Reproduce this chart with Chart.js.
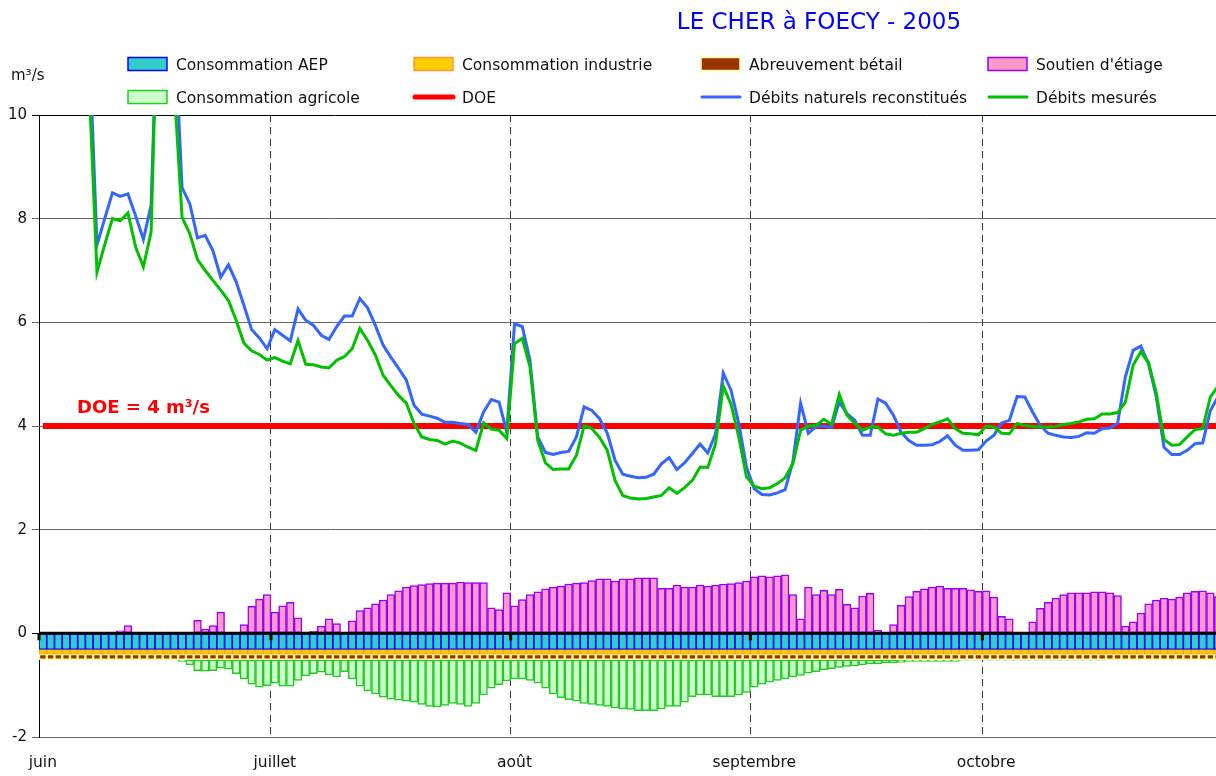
<!DOCTYPE html>
<html lang="fr">
<head>
<meta charset="utf-8">
<title>LE CHER à FOECY - 2005</title>
<script src="https://cdn.jsdelivr.net/npm/chart.js@4.4.1/dist/chart.umd.min.js"></script>
<style>
  html, body { margin: 0; padding: 0; background: #fff; overflow: hidden; }
  /* le tracé déborde légèrement à droite de la fenêtre, comme sur l'original */
  #wrap { position: relative; width: 1222px; height: 776px; }
</style>
</head>
<body>
<div id="wrap"><canvas id="debits"></canvas></div>
<script>
// mois affichés sur l'axe et nombre de jours de chacun
const mois = ['juin', 'juillet', 'août', 'septembre', 'octobre'];
const joursParMois = [30, 31, 31, 30, 31];

// graduations de l'axe des débits (m3/s)
const yTicks = [-2, 0, 2, 4, 6, 8, 10];

// débits journaliers du 1er juin au 31 octobre (m3/s)
const debitsNaturels = [
  17.5, 16.8, 15.9, 14.6, 13.4, 12.3, 11.4, 7.49, 8.0, 8.5,
  8.43, 8.48, 8.05, 7.6, 8.26, 13.0, 13.6, 11.8, 8.6, 8.29,
  7.63, 7.68, 7.38, 6.87, 7.11, 6.78, 6.33, 5.86, 5.7, 5.49,
  5.86, 5.75, 5.64, 6.26, 6.04, 5.94, 5.75, 5.67, 5.92, 6.12,
  6.12, 6.46, 6.28, 5.94, 5.56, 5.33, 5.11, 4.89, 4.4, 4.23,
  4.19, 4.15, 4.07, 4.07, 4.05, 4.03, 3.88, 4.27, 4.51, 4.46,
  3.88, 5.97, 5.92, 5.27, 3.79, 3.49, 3.45, 3.49, 3.51, 3.79,
  4.37, 4.3, 4.14, 3.86, 3.34, 3.07, 3.03, 3.0, 3.01, 3.07,
  3.27, 3.39, 3.16, 3.29, 3.47, 3.65, 3.48, 3.85, 5.02, 4.69,
  4.05, 3.21, 2.79, 2.68, 2.67, 2.71, 2.77, 3.31, 4.44, 3.86,
  3.99, 4.0, 3.97, 4.46, 4.24, 4.11, 3.82, 3.82, 4.52, 4.44,
  4.21, 3.88, 3.72, 3.63, 3.63, 3.64, 3.7, 3.81, 3.63, 3.53,
  3.53, 3.54, 3.71, 3.82, 4.06, 4.11, 4.57, 4.56, 4.27, 4.01,
  3.86, 3.82, 3.79, 3.78, 3.8, 3.87, 3.86, 3.95, 3.96, 4.05,
  4.95, 5.46, 5.54, 5.2, 4.56, 3.59, 3.45, 3.45, 3.53, 3.66,
  3.67, 4.3, 4.57
];

const debitsMesures = [
  16.9, 16.1, 15.2, 14.0, 12.8, 11.6, 10.5, 6.97, 7.5, 8.0,
  7.96, 8.11, 7.45, 7.07, 7.74, 13.2, 12.9, 10.5, 8.03, 7.71,
  7.21, 7.0, 6.81, 6.62, 6.42, 6.04, 5.6, 5.45, 5.38, 5.27,
  5.32, 5.25, 5.2, 5.65, 5.19, 5.18, 5.14, 5.12, 5.27, 5.34,
  5.49, 5.88, 5.65, 5.37, 4.98, 4.78, 4.59, 4.44, 4.05, 3.79,
  3.74, 3.72, 3.65, 3.71, 3.67, 3.59, 3.53, 4.06, 3.94, 3.92,
  3.76, 5.59, 5.69, 5.14, 3.72, 3.29, 3.16, 3.17, 3.17, 3.43,
  4.0, 3.95, 3.78, 3.53, 2.95, 2.66, 2.61, 2.59, 2.6, 2.63,
  2.66, 2.81, 2.7, 2.81, 2.95, 3.21, 3.2, 3.66, 4.77, 4.42,
  3.79, 3.02, 2.84, 2.79, 2.81, 2.89, 3.0, 3.27, 3.92, 4.0,
  4.01, 4.13, 4.03, 4.61, 4.21, 4.05, 3.92, 3.98, 3.98, 3.85,
  3.82, 3.86, 3.88, 3.88, 3.95, 4.03, 4.08, 4.14, 3.95, 3.86,
  3.85, 3.83, 4.0, 3.98, 3.86, 3.85, 4.05, 4.01, 3.99, 3.98,
  3.98, 3.99, 4.03, 4.05, 4.08, 4.13, 4.14, 4.23, 4.23, 4.26,
  4.46, 5.17, 5.43, 5.22, 4.64, 3.74, 3.63, 3.64, 3.79, 3.93,
  3.95, 4.56, 4.77
];

const soutienEtiage = [
  0, 0, 0, 0, 0, 0, 0, 0, 0, 0,
  0.05, 0.15, 0, 0, 0, 0, 0, 0, 0, 0,
  0.25, 0.08, 0.15, 0.41, 0, 0, 0.17, 0.52, 0.66, 0.75,
  0.41, 0.53, 0.6, 0.3, 0, 0.04, 0.14, 0.28, 0.19, 0,
  0.24, 0.44, 0.49, 0.57, 0.64, 0.75, 0.82, 0.89, 0.92, 0.94,
  0.96, 0.97, 0.97, 0.97, 0.99, 0.98, 0.98, 0.98, 0.49, 0.46,
  0.78, 0.53, 0.65, 0.75, 0.8, 0.86, 0.89, 0.91, 0.95, 0.97,
  0.98, 1.02, 1.05, 1.05, 1.01, 1.05, 1.05, 1.07, 1.07, 1.07,
  0.87, 0.87, 0.93, 0.89, 0.89, 0.93, 0.91, 0.93, 0.95, 0.96,
  0.98, 1.01, 1.09, 1.11, 1.09, 1.11, 1.13, 0.75, 0.28, 0.89,
  0.75, 0.83, 0.75, 0.85, 0.56, 0.49, 0.72, 0.77, 0.06, 0,
  0.17, 0.54, 0.71, 0.81, 0.86, 0.89, 0.91, 0.87, 0.87, 0.87,
  0.84, 0.81, 0.82, 0.7, 0.33, 0.28, 0, 0, 0.22, 0.48,
  0.6, 0.68, 0.75, 0.78, 0.78, 0.78, 0.8, 0.8, 0.78, 0.73,
  0.14, 0.22, 0.39, 0.57, 0.64, 0.68, 0.66, 0.7, 0.78, 0.81,
  0.82, 0.78, 0.71
];

// prélèvements agricoles (tracés vers le bas)
const consoAgricole = [
  0, 0, 0, 0, 0, 0, 0, 0, 0, 0,
  0, 0, 0, 0, 0, 0, 0, 0, 0.03, 0.1,
  0.21, 0.22, 0.21, 0.16, 0.18, 0.27, 0.37, 0.47, 0.53, 0.5,
  0.45, 0.51, 0.51, 0.4, 0.31, 0.27, 0.24, 0.29, 0.33, 0.23,
  0.37, 0.51, 0.6, 0.66, 0.72, 0.76, 0.78, 0.8, 0.82, 0.86,
  0.9, 0.91, 0.88, 0.84, 0.86, 0.9, 0.84, 0.68, 0.55, 0.48,
  0.41, 0.37, 0.37, 0.4, 0.45, 0.55, 0.66, 0.73, 0.77, 0.8,
  0.84, 0.86, 0.88, 0.9, 0.93, 0.95, 0.96, 0.98, 0.98, 0.98,
  0.95, 0.9, 0.9, 0.82, 0.71, 0.68, 0.68, 0.71, 0.71, 0.71,
  0.68, 0.63, 0.53, 0.47, 0.43, 0.4, 0.37, 0.33, 0.3, 0.26,
  0.23, 0.19, 0.17, 0.15, 0.13, 0.12, 0.1, 0.08, 0.08, 0.06,
  0.06, 0.05, 0.03, 0.03, 0.03, 0.03, 0.03, 0.03, 0.03, 0.01,
  0.01, 0.01, 0.01, 0.01, 0.01, 0.01, 0.01, 0.01, 0.01, 0.01,
  0.01, 0.01, 0.01, 0.01, 0.01, 0.01, 0.01, 0.01, 0, 0,
  0, 0, 0, 0, 0, 0, 0, 0, 0, 0,
  0, 0, 0
];

// prélèvements constants sur la période
const consoAEP = 0.31;
const consoIndustrie = 0.09;
const abreuvementBetail = 0.11;
const doe = 4;

// jours et indices de début de mois
const jours = [];
const debutMois = [];
mois.forEach((m, k) => {
  debutMois.push(jours.length);
  for (let d = 1; d <= joursParMois[k]; d++) jours.push(d + ' ' + m);
});

const police = 'DejaVu Sans';
Chart.defaults.font.family = police;

const lignes = (valeurs, label, couleur, largeur, pile) => ({
  type: 'line', label, data: valeurs, stack: pile,
  borderColor: couleur, backgroundColor: couleur, borderWidth: largeur,
  pointRadius: 0, tension: 0, clip: 0
});

const barres = (valeurs, label, fond, bord, largeur) => ({
  type: 'bar', label, data: valeurs, stack: 'conso',
  backgroundColor: fond, borderColor: bord, borderWidth: largeur,
  borderSkipped: false, barPercentage: 1, categoryPercentage: 1
});

// legende en grille de 4 colonnes sur 2 lignes
const legende = [
  ['Consommation AEP', 0, 0], ['Consommation industrie', 1, 0],
  ['Abreuvement bétail', 2, 0], ["Soutien d'étiage", 3, 0],
  ['Consommation agricole', 0, 1], ['DOE', 1, 1],
  ['Débits naturels reconstitués', 2, 1], ['Débits mesurés', 3, 1]
];
const colX = [128, 414, 701, 988];
const rowY = [64, 97];

const decor = {
  id: 'decor',
  afterDatasetsDraw(chart) {
    const { ctx, chartArea: a, scales: { x, y } } = chart;
    const y0 = y.getPixelForValue(0);
    ctx.save();
    ctx.strokeStyle = '#000';
    ctx.lineWidth = 3;
    ctx.beginPath();
    ctx.moveTo(a.left, y0);
    ctx.lineTo(a.right, y0);
    ctx.stroke();
    const demi = (x.getPixelForValue(1) - x.getPixelForValue(0)) / 2;
    ctx.fillStyle = '#000';
    debutMois.forEach(i => {
      ctx.fillRect(x.getPixelForValue(i) - demi - 1.5, y0, 3, 7);
    });
    ctx.fillStyle = '#FF0000';
    ctx.font = 'bold 18px "' + police + '"';
    ctx.textAlign = 'left';
    ctx.textBaseline = 'alphabetic';
    ctx.fillText('DOE = ' + doe + ' m³/s', 77, y.getPixelForValue(doe) - 13);
    ctx.restore();
  },
  afterDraw(chart) {
    const ctx = chart.ctx;
    ctx.save();
    ctx.textBaseline = 'alphabetic';
    // titre
    ctx.fillStyle = '#0000FF';
    ctx.font = '23px "' + police + '"';
    ctx.textAlign = 'center';
    ctx.fillText('LE CHER à FOECY - 2005', 819, 29);
    // unité
    ctx.fillStyle = '#111';
    ctx.font = '15px "' + police + '"';
    ctx.textAlign = 'left';
    ctx.fillText('m³/s', 11, 80);
    // légende
    ctx.font = '15.5px "' + police + '"';
    legende.forEach(([label, c, r]) => {
      const ds = chart.data.datasets.find(d => d.label === label);
      const bx = colX[c], cy = rowY[r];
      if (ds.type === 'line') {
        ctx.strokeStyle = ds.borderColor;
        ctx.lineWidth = label === 'DOE' ? 5 : 3;
        ctx.lineCap = 'round';
        ctx.beginPath();
        ctx.moveTo(bx + 1, cy);
        ctx.lineTo(bx + 39, cy);
        ctx.stroke();
      } else {
        ctx.fillStyle = ds.backgroundColor;
        ctx.fillRect(bx, cy - 6.5, 39, 13);
        ctx.strokeStyle = ds.borderColor;
        ctx.lineWidth = 1.5;
        ctx.strokeRect(bx, cy - 6.5, 39, 13);
      }
      ctx.fillStyle = '#111';
      ctx.fillText(label, bx + 48, cy + 6);
    });
    ctx.restore();
  }
};

new Chart(document.getElementById('debits'), {
  data: {
    labels: jours,
    datasets: [
      lignes(debitsMesures, 'Débits mesurés', '#00C000', 3, 'l1'),
      lignes(debitsNaturels, 'Débits naturels reconstitués', '#3366FF', 3, 'l2'),
      lignes(jours.map(() => doe), 'DOE', '#FF0000', 6, 'l3'),
      barres(jours.map(() => -consoAEP), 'Consommation AEP', '#33CCCC', '#0000FF', 1.2),
      barres(jours.map(() => -consoIndustrie), 'Consommation industrie', '#FFCC00', '#FF9933', 1),
      barres(jours.map(() => -abreuvementBetail), 'Abreuvement bétail', '#993300', '#FFFF99', 1.5),
      barres(consoAgricole.map(v => -v), 'Consommation agricole', '#CCFFCC', '#22CC22', 1.5),
      barres(soutienEtiage, "Soutien d'étiage", '#FF99CC', '#9900FF', 1.5)
    ]
  },
  options: {
    responsive: true,
    maintainAspectRatio: false,
    animation: false,
    layout: { padding: { top: 115, left: 0, right: 0, bottom: 0 } },
    plugins: {
      legend: { display: false },
      title: { display: false },
      tooltip: { enabled: false }
    },
    scales: {
      x: {
        afterFit: s => { s.height = 39; s.paddingLeft = 0; s.paddingRight = 0; },
        ticks: {
          autoSkip: false, maxRotation: 0, minRotation: 0, padding: 17,
          color: '#111', font: { size: 15.5 },
          callback: (v, i) => debutMois.includes(i) ? mois[debutMois.indexOf(i)] : ''
        },
        grid: {
          offset: true, drawTicks: false, lineWidth: 1,
          color: c => (c.index > 0 && debutMois.includes(c.index)) ? '#333' : 'rgba(0,0,0,0)'
        },
        border: { color: '#666', width: 1, dash: [7, 5] }
      },
      y: {
        stacked: true, min: -2, max: 10,
        afterBuildTicks: s => { s.ticks = yTicks.map(v => ({ value: v })); },
        afterFit: s => { s.width = 39; },
        ticks: { color: '#111', font: { size: 15 }, padding: 5 },
        grid: {
          tickLength: 7, lineWidth: 1,
          color: c => (c.tick && (c.tick.value === 0 || c.tick.value === 10)) ? '#000' : '#666'
        },
        border: { color: '#000', width: 1 }
      }
    }
  },
  plugins: [decor]
});
</script>
</body>
</html>
